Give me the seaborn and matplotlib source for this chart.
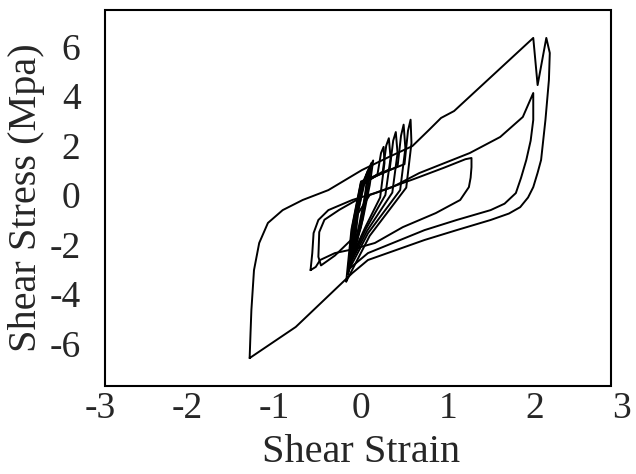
import matplotlib
matplotlib.use("Agg")
import matplotlib.pyplot as plt
from matplotlib.patches import Rectangle
import pandas as pd
import seaborn as sns

# loops (strain, stress in MPa)
big_strain = [-1.28, -1.27, -1.26, -1.23, -1.17, -1.07, -0.90, -0.67, -0.375, 0.01, 0.08,
              0.32, 0.59, 0.78, 0.92, 1.07, 1.98, 2.03, 2.13, 2.17, 2.16, 2.12, 2.07,
              2.03, 1.98, 1.92, 1.83, 1.70, 1.49, 1.10, 0.73, 0.08, -0.10, -0.75, -1.28]
big_stress = [-6.60, -5.60, -4.66, -3.04, -1.94, -1.13, -0.61, -0.20, 0.20, 1.01, 1.13,
              1.54, 1.98, 2.63, 3.12, 3.40, 6.36, 4.45, 6.36, 5.75, 4.66, 3.04, 1.42,
              0.90, 0.32, -0.10, -0.49, -0.75, -1.01, -1.42, -1.82, -2.63, -3.16, -5.34, -6.60]

mid_strain = [-0.14, -0.08, 0.10, 0.36, 0.67, 1.25, 1.60, 1.86, 1.98, 1.98, 1.95, 1.90,
              1.84, 1.78, 1.65, 1.49, 1.10, 0.73, 0.08, -0.14]
mid_stress = [-3.00, -1.00, 0.00, 0.32, 0.89, 1.70, 2.35, 3.16, 4.13, 3.04, 2.20, 1.42,
              0.70, 0.08, -0.35, -0.61, -1.01, -1.42, -2.35, -3.00]

left_strain = [-0.58, -0.56, -0.545, -0.49, -0.375, -0.10, 0.16, 0.61, 0.95, 1.20,
               1.27, 1.27, 1.26, 1.24, 1.14, 0.86, 0.48, 0.16, -0.10, -0.30, -0.47, -0.52, -0.58]
left_stress = [-3.04, -2.35, -1.54, -1.01, -0.61, -0.20, 0.08, 0.65, 1.10, 1.45,
               1.50, 1.13, 0.70, 0.32, -0.20, -0.73, -1.30, -1.94, -2.20, -2.35, -2.63, -2.91, -3.04]

inner_strain = [-0.05, -0.30, -0.46, -0.49, -0.48, -0.42, -0.25, -0.05]
inner_stress = [-1.60, -2.45, -2.85, -2.50, -1.50, -1.00, -0.60, -0.20]

f1_strain = [-0.12, -0.07, 0.00, 0.19, 0.23, 0.26, 0.27, 0.22, 0.05, -0.12]
f1_stress = [-2.60, -1.00, 0.35, 0.85, 1.70, 1.95, 1.30, -0.10, -1.30, -2.60]
f2_strain = [-0.13, -0.08, 0.00, 0.25, 0.29, 0.32, 0.34, 0.28, 0.06, -0.13]
f2_stress = [-2.75, -1.10, 0.40, 0.95, 2.00, 2.30, 1.50, 0.00, -1.35, -2.75]
f3_strain = [-0.14, -0.09, 0.00, 0.33, 0.37, 0.40, 0.42, 0.36, 0.07, -0.14]
f3_stress = [-2.90, -1.20, 0.45, 1.05, 2.20, 2.55, 1.70, 0.10, -1.45, -2.90]
f4_strain = [-0.15, -0.10, 0.00, 0.42, 0.46, 0.49, 0.51, 0.45, 0.08, -0.15]
f4_stress = [-3.10, -1.30, 0.50, 1.15, 2.40, 2.85, 1.90, 0.20, -1.55, -3.10]
f5_strain = [-0.17, -0.11, 0.00, 0.50, 0.54, 0.57, 0.58, 0.52, 0.10, -0.17]
f5_stress = [-3.50, -1.40, 0.55, 1.25, 2.60, 3.05, 2.10, 0.30, -1.65, -3.50]

t1_strain = [-0.10, -0.04, 0.04, 0.10, 0.06, -0.02, -0.10]
t1_stress = [-2.40, -0.80, 0.60, 1.10, 0.20, -1.20, -2.40]
t2_strain = [-0.12, -0.06, 0.02, 0.12, 0.08, 0.00, -0.12]
t2_stress = [-2.70, -1.00, 0.50, 1.30, 0.30, -1.30, -2.70]
t3_strain = [-0.08, -0.03, 0.06, 0.14, 0.10, 0.02, -0.08]
t3_stress = [-2.20, -0.60, 0.80, 1.40, 0.40, -1.00, -2.20]
t4_strain = [-0.15, -0.09, -0.02, 0.08, 0.04, -0.04, -0.15]
t4_stress = [-3.20, -1.50, 0.00, 1.00, -0.20, -1.80, -3.20]

x_ticks = [-3, -2, -1, 0, 1, 2, 3]
y_ticks = [-6, -4, -2, 0, 2, 4, 6]

loops = {
    "big": (big_strain, big_stress),
    "mid": (mid_strain, mid_stress),
    "left": (left_strain, left_stress),
    "inner": (inner_strain, inner_stress),
    "f1": (f1_strain, f1_stress),
    "f2": (f2_strain, f2_stress),
    "f3": (f3_strain, f3_stress),
    "f4": (f4_strain, f4_stress),
    "f5": (f5_strain, f5_stress),
    "t1": (t1_strain, t1_stress),
    "t2": (t2_strain, t2_stress),
    "t3": (t3_strain, t3_stress),
    "t4": (t4_strain, t4_stress),
}
rows = []
for name, (xs, ys) in loops.items():
    for i, (a, b) in enumerate(zip(xs, ys)):
        rows.append({"loop": name, "step": i, "strain": a, "stress": b})
df = pd.DataFrame(rows)

sns.set_style("white")
plt.rcParams["font.family"] = ["Liberation Serif", "DejaVu Serif"]
plt.rcParams["axes.unicode_minus"] = False

fig = plt.figure(figsize=(6.36, 4.74), dpi=100)
ax = fig.add_axes([100 / 636, 88 / 474, 522 / 636, 376 / 474])

sns.lineplot(data=df, x="strain", y="stress", units="loop", estimator=None,
             sort=False, color="black", lw=1.4, ax=ax)

ax.set_xlim(-3, 3)
ax.set_ylim(-7.73, 7.49)
ax.set_xticks(x_ticks)
ax.set_yticks(y_ticks)
ax.tick_params(axis="both", length=0, labelsize=27)
ax.tick_params(axis="x", pad=4)
ax.tick_params(axis="y", pad=14)
for s in ax.spines.values():
    s.set_visible(False)
ax.add_patch(Rectangle((5 / 522, 0), 506 / 522, 1, transform=ax.transAxes,
                       fill=False, edgecolor="black", lw=1.5, clip_on=False))

ax.set_xlabel("Shear Strain", fontsize=29, labelpad=6)
ax.set_ylabel("Shear Stress (Mpa)", fontsize=29)
ax.yaxis.set_label_coords(-0.105, 0.5)

fig.savefig("out.png", dpi=100)
